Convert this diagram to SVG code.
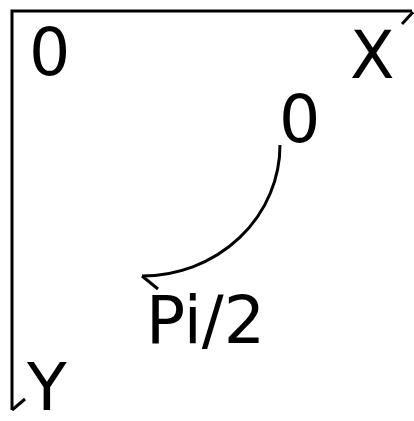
<svg xmlns="http://www.w3.org/2000/svg" width="414" height="421" viewBox="0 0 414 421">
<style>
.t{font-family:"DejaVu Sans",sans-serif;font-size:65px;fill:#000}
.l{fill:none;stroke:#000;stroke-width:3;stroke-linecap:butt}
</style>
<rect width="414" height="421" fill="#fff"/>
<g id="axes">
<path class="l" d="M412,11 H12 V410"/>
<path class="l" d="M413,12 L402,24"/>
<path class="l" d="M12,410 L25,399"/>
</g>
<g id="connectors">
<path class="l" d="M280,145 A138,131 0 0 1 142,276"/>
<path class="l" d="M142,276 L158,289"/>
</g>
<g id="labels">
<text class="t" x="29" y="75">0</text>
<text class="t" x="350" y="78">X</text>
<text class="t" x="279" y="142">0</text>
<text class="t" x="146" y="343">Pi/2</text>
<text class="t" x="27" y="410">Y</text>
</g>
</svg>
